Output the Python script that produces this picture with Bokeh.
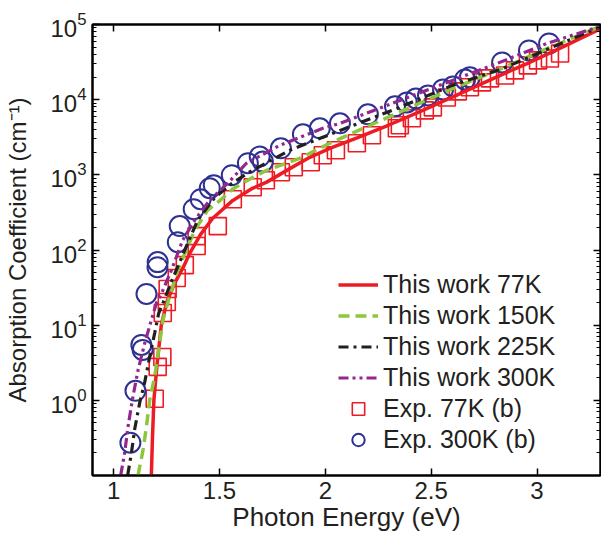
from bokeh.plotting import figure
from bokeh.models import (Range1d, FixedTicker, LogAxis, LinearAxis, Legend, LegendItem,
                          CustomJSTickFormatter)
from bokeh.embed import file_html
from bokeh.resources import INLINE

# ---- data ----
x_ticks = [1, 1.5, 2, 2.5, 3]
x_tick_labels = ["1", "1.5", "2", "2.5", "3"]
y_ticks = [1, 10, 100, 1e3, 1e4, 1e5]

e77 = [1.178, 1.183, 1.190, 1.205, 1.225, 1.250, 1.288, 1.330, 1.360, 1.41, 1.468,
       1.563, 1.65, 1.723, 1.83, 1.927, 2.021, 2.15, 2.30, 2.45, 2.636, 2.80, 2.95, 3.10, 3.30]
a77 = [0.1, 0.3, 1.0, 3.0, 10, 20, 36, 60, 91, 160, 265,
       457, 650, 800, 1200, 1710, 2255, 3100, 4600, 7000, 12000, 19500, 30000, 47000, 88000]

e150 = [1.115, 1.139, 1.155, 1.170, 1.194, 1.217, 1.233, 1.26, 1.303, 1.343, 1.383, 1.444,
        1.50, 1.563, 1.65, 1.723, 1.879, 2.021, 2.338, 2.60, 2.811, 3.05, 3.30]
a150 = [0.1, 0.22, 0.45, 1.0, 2.07, 5.8, 11.7, 22, 54, 100, 184, 339,
        450, 650, 900, 1150, 1660, 2630, 6580, 14000, 24500, 48000, 95000]

e225 = [1.066, 1.084, 1.099, 1.123, 1.147, 1.170, 1.194, 1.213, 1.24, 1.273, 1.336, 1.397,
        1.478, 1.556, 1.643, 1.832, 2.035, 2.338, 2.60, 2.839, 3.05, 3.30]
a225 = [0.1, 0.2, 0.41, 0.93, 1.76, 3.8, 7.9, 14.5, 22, 38, 100, 250,
        500, 760, 1094, 2120, 3570, 7650, 15500, 26000, 47000, 93000]

e300 = [1.033, 1.052, 1.068, 1.091, 1.115, 1.147, 1.178, 1.202, 1.225, 1.273, 1.326, 1.383,
        1.454, 1.539, 1.627, 1.785, 1.988, 2.069, 2.352, 2.60, 2.811, 3.047, 3.28, 3.30]
a300 = [0.1, 0.2, 0.45, 1.12, 2.5, 5.8, 11.7, 19.7, 26, 54, 135, 250,
        460, 774, 1425, 2470, 4160, 4840, 9770, 18000, 30300, 56000, 91000, 95000]

exp77_e = [1.194, 1.208, 1.230, 1.232, 1.251, 1.255, 1.298, 1.336, 1.392, 1.392, 1.492, 1.563,
           1.657, 1.719, 1.790, 1.851, 1.931, 1.988, 2.050, 2.149, 2.220, 2.338, 2.352, 2.409,
           2.470, 2.508, 2.574, 2.626, 2.683, 2.740, 2.778, 2.849, 2.896, 2.957, 3.005, 3.061, 3.109]
exp77_a = [1.05, 2.79, 3.78, 14.5, 20.3, 30.3, 42.4, 63, 113, 153, 208, 474,
           684, 847, 1083, 1262, 1470, 1820, 2120, 2630, 3360, 4160, 4560, 5650,
           7210, 7900, 10700, 12900, 14600, 17000, 19200, 21000, 24500, 28600, 33300, 35300, 41200]

exp300_e = [1.079, 1.103, 1.131, 1.137, 1.155, 1.207, 1.208, 1.303, 1.312, 1.378, 1.411, 1.454,
            1.473, 1.558, 1.634, 1.69, 1.705, 1.790, 1.894, 1.974, 2.069, 2.201, 2.329, 2.385,
            2.428, 2.485, 2.556, 2.603, 2.66, 2.683, 2.835, 2.962, 3.057]
exp300_a = [0.273, 1.34, 5.46, 4.69, 26, 59, 69, 127, 208, 349, 474, 664,
            728, 988, 1427, 1750, 1500, 2255, 3460, 4160, 4845, 6380, 8150, 9200,
            10400, 11400, 13700, 15000, 18600, 19800, 31300, 45200, 56000]

labels = ["This work 77K", "This work 150K", "This work 225K", "This work 300K",
          "Exp. 77K (b)", "Exp. 300K (b)"]

# ---- styles ----
RED = "#ed1c24"
GREEN = "#8dc63f"
BLACK = "#231f20"
PURPLE = "#92278f"
BLUE = "#2e3192"
FONT = "Liberation Sans"
TXT = "#231f20"

p = figure(width=601, height=534, x_range=Range1d(0.9, 3.3), y_range=Range1d(0.1, 1e5),
           y_axis_type="log", output_backend="svg", toolbar_location=None,
           min_border_left=92, min_border_right=1, min_border_top=24, min_border_bottom=58)
p.grid.visible = False
p.outline_line_color = "black"
p.outline_line_width = 2
p.background_fill_color = "white"
p.border_fill_color = "white"

minor = [m * d for d in [0.1, 1, 10, 100, 1e3, 1e4] for m in range(2, 10)]

xa = p.xaxis[0]
xa.ticker = FixedTicker(ticks=x_ticks)
xa.major_label_overrides = dict(zip(x_ticks, x_tick_labels))
xa.axis_label = "Photon Energy (eV)"
ya = p.yaxis[0]
ya.ticker = FixedTicker(ticks=y_ticks, minor_ticks=minor)
ya.axis_label = "Absorption Coefficient (cm\u207b\u00b9)"

for ax in (xa, ya):
    ax.axis_line_width = 2
    ax.major_tick_in = 7
    ax.major_tick_out = 0
    ax.minor_tick_in = 4
    ax.minor_tick_out = 0
    ax.major_tick_line_width = 1.5
    ax.major_label_text_font = FONT
    ax.major_label_text_font_size = "24px"
    ax.major_label_text_color = TXT
    ax.axis_label_text_font = FONT
    ax.axis_label_text_font_style = "normal"
    ax.axis_label_text_color = TXT
xa.axis_label_text_font_size = "26px"
ya.axis_label_text_font_size = "24px"
xa.major_label_standoff = 6
xa.axis_label_standoff = 0
ya.major_label_standoff = 6
ya.axis_label_standoff = 16

blank = CustomJSTickFormatter(code="return ''")
top = LinearAxis(ticker=FixedTicker(ticks=x_ticks), formatter=blank,
                 major_tick_in=7, major_tick_out=0, axis_line_width=2,
                 major_label_standoff=0, major_tick_line_width=1.5)
right = LogAxis(ticker=FixedTicker(ticks=y_ticks, minor_ticks=minor), formatter=blank,
                major_tick_in=7, major_tick_out=0, minor_tick_in=4, minor_tick_out=0,
                axis_line_width=2, major_label_standoff=0, major_tick_line_width=1.5)
p.add_layout(top, "above")
p.add_layout(right, "right")

# markers first (below lines)
rs = p.scatter(exp77_e, exp77_a, marker="square", size=17, fill_color=None,
               line_color=RED, line_width=1.6)
rc = p.scatter(exp300_e, exp300_a, marker="circle", size=20, fill_color=None,
               line_color=BLUE, line_width=2)

r1 = p.line(e77, a77, line_color=RED, line_width=3.5)
r2 = p.line(e150, a150, line_color=GREEN, line_width=3.5, line_dash="11 6")
r3 = p.line(e225, a225, line_color=BLACK, line_width=3.2, line_dash="10 5 3 5")
r4 = p.line(e300, a300, line_color=PURPLE, line_width=3.2, line_dash="10 4 3 4 3 4")

legend = Legend(items=[LegendItem(label=labels[0], renderers=[r1]),
                       LegendItem(label=labels[1], renderers=[r2]),
                       LegendItem(label=labels[2], renderers=[r3]),
                       LegendItem(label=labels[3], renderers=[r4]),
                       LegendItem(label=labels[4], renderers=[rs]),
                       LegendItem(label=labels[5], renderers=[rc])],
                location=(246, 20), glyph_width=40, glyph_height=31, label_height=31,
                spacing=0, padding=0, margin=0, border_line_color=None,
                background_fill_alpha=0, label_standoff=5,
                label_text_font=FONT, label_text_font_size="25px", label_text_color=TXT)
p.add_layout(legend)

open("out.html", "w").write(file_html(p, INLINE))
